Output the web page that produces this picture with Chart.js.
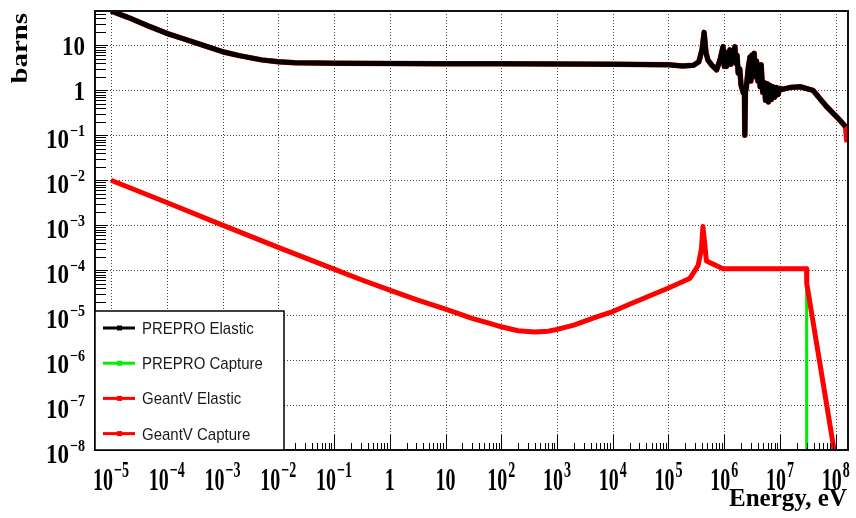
<!DOCTYPE html>
<html>
<head>
<meta charset="utf-8">
<script src="https://cdn.jsdelivr.net/npm/chart.js@4.4.1/dist/chart.umd.min.js"></script>
<style>
  html, body { margin: 0; background: #fff; }
  canvas { display: block; }
</style>
</head>
<body>
<canvas id="xsChart" width="856" height="518"></canvas>
<script>
// energies in eV, cross sections in barns
const elasticE = [1e-5, 2e-5, 5e-5, 1e-4, 2e-4, 5e-4, 1e-3, 2e-3, 5e-3, 1e-2, 2e-2, 5e-2, 0.1, 1, 10, 100, 1e3, 1e4, 1e5,
  1.8e5, 2.8e5, 3.5e5, 4.0e5, 4.36e5, 4.7e5, 5.1e5, 6.0e5, 7.3e5, 8.5e5, 9.5e5,
  1.0e6, 1.05e6, 1.1e6, 1.18e6, 1.26e6, 1.32e6, 1.4e6, 1.47e6, 1.55e6, 1.62e6, 1.7e6, 1.78e6, 1.9e6,
  2.0e6, 2.19e6, 2.3e6, 2.34e6, 2.4e6, 2.5e6, 2.7e6, 2.9e6, 3.0e6, 3.15e6, 3.3e6, 3.45e6, 3.6e6,
  3.8e6, 4.0e6, 4.2e6, 4.4e6, 4.6e6, 4.9e6, 5.2e6, 5.5e6, 5.9e6, 6.2e6, 6.6e6, 7.0e6, 7.5e6, 8.0e6,
  8.6e6, 9.2e6, 1.0e7, 1.1e7, 1.5e7, 2.3e7, 3.9e7, 6.9e7, 1.17e8, 1.5e8];
const elasticXs = [58, 42, 26, 18.5, 14, 9.6, 7.2, 5.9, 4.75, 4.3, 4.12, 4.02, 3.97, 3.93, 3.9, 3.88, 3.85, 3.8, 3.7,
  3.45, 3.6, 4.3, 8, 19.4, 7, 4.7, 3.6, 2.85, 5, 9.3,
  3.4, 7, 3.4, 6.5, 7.9, 3.8, 7, 4.5, 9.3, 4, 6, 2.4, 3,
  1.3, 0.88, 1.0, 0.10, 0.9, 1.2, 3.2, 5.5, 1.6, 6.1, 2.0, 6.7, 2.2,
  4.5, 1.6, 3.2, 1.2, 3.7, 0.9, 1.5, 0.6, 1.4, 0.55, 1.3, 0.62, 1.2, 0.7,
  1.15, 0.8, 1.1, 1.05, 1.15, 1.2, 1.0, 0.43, 0.22, 0.155];
const geantElasticTailE = [1.6e8];
const geantElasticTailXs = [0.07];

const captureE = [1e-5, 1e-4, 1e-3, 1e-2, 0.1, 0.3, 1, 3, 10, 30, 60, 100, 200, 400, 700, 1e3, 2e3, 5e3, 1e4, 2e4, 5e4, 1e5,
  2.4e5, 3.4e5, 3.9e5, 4.15e5, 4.3e5, 4.8e5, 9.5e5, 3.0e7];
const captureXs = [1.0e-2, 3.2e-3, 1.0e-3, 3.2e-4, 1.05e-4, 6.2e-5, 3.6e-5, 2.2e-5, 1.35e-5, 8.5e-6, 6.6e-6, 5.5e-6, 4.5e-6, 4.2e-6, 4.4e-6, 4.8e-6, 6.0e-6, 9.0e-6, 1.2e-5, 1.75e-5, 2.8e-5, 4.0e-5,
  6.5e-5, 1.26e-4, 3.0e-4, 9.3e-4, 6.0e-4, 1.6e-4, 1.07e-4, 1.07e-4];
const preproCaptureTailE = [3.01e7];
const preproCaptureTailXs = [1e-11];
const geantCaptureTailE = [3.02e7, 1e8];
const geantCaptureTailXs = [5.1e-5, 6e-9];

const xDecades = [-5, -4, -3, -2, -1, 0, 1, 2, 3, 4, 5, 6, 7, 8];
const yDecades = [-8, -7, -6, -5, -4, -3, -2, -1, 0, 1];
const seriesNames = ['PREPRO Elastic', 'PREPRO Capture', 'GeantV Elastic', 'GeantV Capture'];
const seriesColors = ['#000000', '#00ee00', '#ff0000', '#ff0000'];

const pts = (xs, ys) => xs.map((x, i) => ({ x: x, y: ys[i] }));

function decadeText(d) {
  if (d === 0) return ['1', ''];
  if (d === 1) return ['10', ''];
  return ['10', d < 0 ? '\u2212' + (-d) : String(d)];
}

// "10" with a raised exponent, drawn with a vertical stretch like the ROOT output
function drawPow(ctx, d, x, base, size, sy, align, expScale, raise) {
  const [b, e] = decadeText(d);
  ctx.font = 'bold ' + size + 'px "Liberation Serif", "DejaVu Serif", serif';
  const wb = ctx.measureText(b).width;
  const es = Math.round(size * expScale);
  ctx.font = 'bold ' + es + 'px "Liberation Serif", "DejaVu Serif", serif';
  const we = e ? ctx.measureText(e).width + 1 : 0;
  const total = wb + we;
  let left = align === 'right' ? x - total : x - total / 2;
  ctx.fillStyle = '#000';
  ctx.textAlign = 'left';
  ctx.textBaseline = 'alphabetic';
  ctx.save();
  ctx.translate(left, base);
  ctx.scale(1, sy);
  ctx.font = 'bold ' + size + 'px "Liberation Serif", "DejaVu Serif", serif';
  ctx.fillText(b, 0, 0);
  if (e) {
    ctx.font = 'bold ' + es + 'px "Liberation Serif", "DejaVu Serif", serif';
    ctx.fillText(e, wb + 1, -size * raise);
  }
  ctx.restore();
}

const rootFrame = {
  id: 'rootFrame',
  beforeDatasetsDraw(chart) {
    const { ctx, chartArea: a, scales: { x, y } } = chart;
    ctx.save();
    ctx.strokeStyle = '#444';
    ctx.lineWidth = 1;
    ctx.setLineDash([1, 2]);
    xDecades.forEach(d => {
      const px = Math.round(x.getPixelForValue(Math.pow(10, d))) + 0.5;
      ctx.beginPath(); ctx.moveTo(px, a.top); ctx.lineTo(px, a.bottom); ctx.stroke();
    });
    yDecades.forEach(d => {
      const py = Math.round(y.getPixelForValue(Math.pow(10, d))) + 0.5;
      ctx.beginPath(); ctx.moveTo(a.left, py); ctx.lineTo(a.right, py); ctx.stroke();
    });
    ctx.restore();
  },
  afterDatasetsDraw(chart) {
    const { ctx, chartArea: a, scales: { x, y } } = chart;
    ctx.save();
    // tick marks, drawn inside the frame
    ctx.strokeStyle = '#000';
    ctx.lineWidth = 1;
    for (let d = -6; d <= 8; d++) {
      for (let k = 1; k <= 9; k++) {
        const v = k * Math.pow(10, d);
        if (v < x.min || v > x.max) continue;
        const px = Math.round(x.getPixelForValue(v)) + 0.5;
        ctx.beginPath(); ctx.moveTo(px, a.bottom); ctx.lineTo(px, a.bottom - (k === 1 ? 15 : 7)); ctx.stroke();
      }
    }
    for (let d = -9; d <= 1; d++) {
      for (let k = 1; k <= 9; k++) {
        const v = k * Math.pow(10, d);
        if (v < y.min || v > y.max) continue;
        const py = Math.round(y.getPixelForValue(v)) + 0.5;
        ctx.beginPath(); ctx.moveTo(a.left, py); ctx.lineTo(a.left + (k === 1 ? 13 : 11), py); ctx.stroke();
      }
    }
    // frame
    ctx.lineWidth = 2;
    ctx.strokeStyle = '#111';
    ctx.strokeRect(a.left, a.top, a.right - a.left, a.bottom - a.top);

    // tick labels
    xDecades.forEach(d => {
      drawPow(ctx, d, x.getPixelForValue(Math.pow(10, d)), 490, 20, 1.6, 'center', 0.7, 0.42);
    });
    yDecades.forEach(d => {
      const py = y.getPixelForValue(Math.pow(10, d));
      const plain = d === 0 || d === 1;
      drawPow(ctx, d, 85, py + (plain ? 9.5 : 13), 23, 1.18, 'right', 0.6, 0.44);
    });

    // axis titles
    ctx.fillStyle = '#000';
    ctx.font = 'bold 25px "Liberation Serif", "DejaVu Serif", serif';
    ctx.textAlign = 'right';
    ctx.textBaseline = 'alphabetic';
    ctx.save();
    ctx.translate(847, 506);
    ctx.scale(1, 1.0);
    ctx.fillText('Energy, eV', 0, 0);
    ctx.restore();
    ctx.save();
    ctx.translate(27, 13);
    ctx.rotate(-Math.PI / 2);
    ctx.scale(1.2, 1);
    ctx.font = 'bold 24px "Liberation Serif", "DejaVu Serif", serif';
    ctx.fillText('barns', 0, 0);
    ctx.restore();

    // legend box
    const lx = 95, ly = 311, lw = 189, lh = 139;
    ctx.fillStyle = '#fff';
    ctx.fillRect(lx, ly, lw, lh);
    ctx.lineWidth = 1.5;
    ctx.strokeStyle = '#000';
    ctx.strokeRect(lx, ly, lw, lh);
    seriesNames.forEach((name, i) => {
      const cy = 328 + i * 35.2;
      ctx.strokeStyle = seriesColors[i];
      ctx.fillStyle = seriesColors[i];
      ctx.lineWidth = 3;
      ctx.beginPath(); ctx.moveTo(103, cy); ctx.lineTo(135, cy); ctx.stroke();
      ctx.fillRect(117, cy - 2.5, 5, 5);
      ctx.save();
      ctx.translate(142, cy + 6);
      ctx.scale(1, 1.12);
      ctx.fillStyle = '#1a1a1a';
      ctx.textAlign = 'left';
      ctx.font = '15px "Liberation Sans", Arial, sans-serif';
      ctx.fillText(name, 0, 0);
      ctx.restore();
    });
    ctx.restore();
  }
};

new Chart(document.getElementById('xsChart'), {
  type: 'line',
  data: {
    datasets: [
      {
        label: seriesNames[0],
        data: pts(elasticE, elasticXs),
        borderColor: seriesColors[0],
        borderWidth: 5,
        order: 1
      },
      {
        label: seriesNames[1],
        data: pts(captureE.concat(preproCaptureTailE), captureXs.concat(preproCaptureTailXs)),
        borderColor: seriesColors[1],
        borderWidth: 3,
        order: 4
      },
      {
        label: seriesNames[2],
        data: pts(elasticE.concat(geantElasticTailE), elasticXs.concat(geantElasticTailXs)),
        borderColor: seriesColors[2],
        borderWidth: 5.5,
        order: 3
      },
      {
        label: seriesNames[3],
        data: pts(captureE.concat(geantCaptureTailE), captureXs.concat(geantCaptureTailXs)),
        borderColor: seriesColors[3],
        borderWidth: 5,
        order: 2
      }
    ]
  },
  options: {
    responsive: false,
    animation: false,
    devicePixelRatio: 1,
    layout: { padding: { left: 95, right: 8, top: 11, bottom: 68 } },
    elements: {
      point: { radius: 0 },
      line: { tension: 0, borderJoinStyle: 'round', borderCapStyle: 'butt' }
    },
    scales: {
      x: { type: 'logarithmic', min: 5.16e-6, max: 1.66e8, bounds: 'data', display: false },
      y: { type: 'logarithmic', min: 1e-8, max: 58, bounds: 'data', display: false }
    },
    plugins: {
      legend: { display: false },
      tooltip: { enabled: false }
    }
  },
  plugins: [rootFrame]
});
</script>
</body>
</html>
